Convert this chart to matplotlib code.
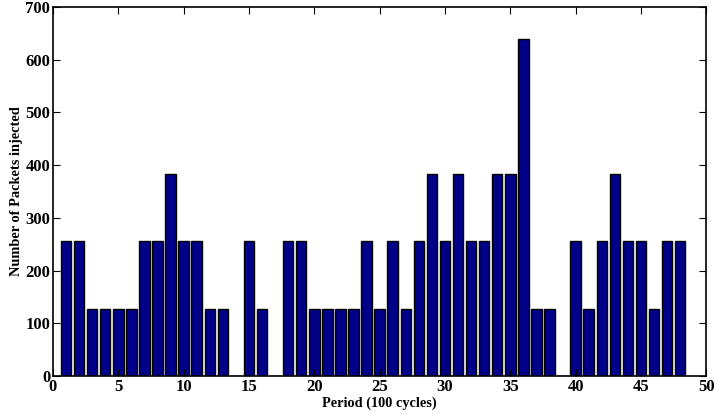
import numpy as np
import matplotlib.pyplot as plt

# packets injected per period
periods = np.arange(1, 49)
packets = [256, 256, 128, 128, 128, 128, 256, 256, 384, 256,
           256, 128, 128, 0, 256, 128, 0, 256, 256, 128,
           128, 128, 128, 256, 128, 256, 128, 256, 384, 256,
           384, 256, 256, 384, 384, 640, 128, 128, 0, 256,
           128, 256, 384, 256, 256, 128, 256, 256]

plt.rcParams['font.family'] = ['Liberation Serif', 'DejaVu Serif']
plt.rcParams['font.weight'] = 'bold'

fig = plt.figure(figsize=(7.14, 4.15), dpi=100)
ax = fig.add_axes([0.0742, 0.094, 0.915, 0.889])

ax.bar(periods, packets, width=0.8, color='#000088', edgecolor='black', linewidth=1.0)

ax.set_xlim(0, 50)
ax.set_ylim(0, 700)
ax.set_xticks(np.arange(0, 51, 5))
ax.set_yticks(np.arange(0, 701, 100))
ax.tick_params(direction='in', top=True, right=True, labelsize=12, length=5, pad=2)
for lbl in ax.get_xticklabels() + ax.get_yticklabels():
    lbl.set_fontweight('bold')
for sp in ax.spines.values():
    sp.set_linewidth(1.2)

ax.set_xlabel('Period (100 cycles)', fontsize=10.3, fontweight='bold', labelpad=1)
ax.set_ylabel('Number of Packets injected', fontsize=10.4, fontweight='bold', labelpad=2)

fig.savefig('out.png', dpi=100)
